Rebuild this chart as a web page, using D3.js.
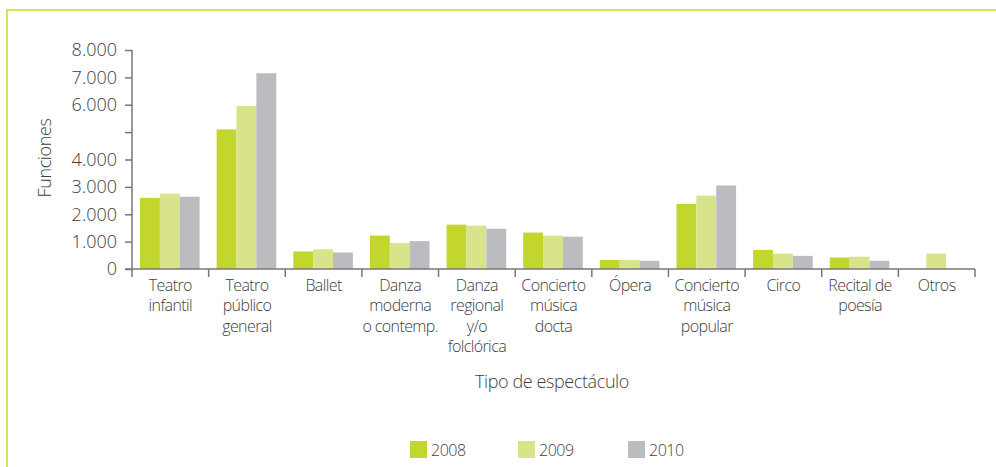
<!DOCTYPE html>
<html>
<head>
<meta charset="utf-8">
<script src="https://cdn.jsdelivr.net/npm/d3@7"></script>
<style>
  html, body { margin: 0; padding: 0; background: #fff; }
  svg text { font-family: "Open Sans", "Noto Sans", sans-serif; font-weight: 300; fill: #404040; }
</style>
</head>
<body>
<div id="chart"></div>
<script>
/* DATA */
var categories = [
  ["Teatro", "infantil"],
  ["Teatro", "público", "general"],
  ["Ballet"],
  ["Danza", "moderna", "o contemp."],
  ["Danza", "regional", "y/o", "folclórica"],
  ["Concierto", "música", "docta"],
  ["Ópera"],
  ["Concierto", "música", "popular"],
  ["Circo"],
  ["Recital de", "poesía"],
  ["Otros"]
];
var years = ["2008", "2009", "2010"];
var values2008 = [2600, 5100, 640, 1220, 1620, 1330, 330, 2380, 700, 420, 0];
var values2009 = [2750, 5950, 720, 950, 1580, 1220, 330, 2680, 560, 450, 560];
var values2010 = [2640, 7150, 600, 1020, 1470, 1180, 300, 3050, 480, 300, 0];
var yTicks = [0, 1000, 2000, 3000, 4000, 5000, 6000, 7000, 8000];
var yTickLabels = ["0", "1.000", "2.000", "3.000", "4.000", "", "6.000", "7.000", "8.000"];
var colors = ["#c3d62d", "#d9e48a", "#bbbcc0"];

/* layout */
var W = 996, H = 467;
var plotLeft = 132, plotRight = 975, plotTop = 50, plotBase = 269;

var svg = d3.select("#chart").append("svg")
  .attr("width", W)
  .attr("height", H);

/* frame (left + top lines) */
svg.append("path")
  .attr("d", "M7," + H + " V10 H" + W)
  .attr("fill", "none")
  .attr("stroke", "#d3e35a")
  .attr("stroke-width", 2);

var keys = categories.map(function(d, i) { return "c" + i; });

var x0 = d3.scaleBand().domain(keys).range([plotLeft, plotRight]);
var x1 = d3.scaleBand().domain(years).range([8, x0.bandwidth() - 9]);
var y = d3.scaleLinear().domain([0, 8000]).range([plotBase, plotTop]);

var series = [values2008, values2009, values2010];

/* bars */
var groups = svg.append("g").selectAll("g")
  .data(keys)
  .enter().append("g")
  .attr("transform", function(d) { return "translate(" + x0(d) + ",0)"; });

groups.selectAll("rect")
  .data(function(d, i) {
    return years.map(function(yr, j) { return {year: yr, value: series[j][i], k: j}; });
  })
  .enter().append("rect")
  .attr("x", function(d) { return x1(d.year); })
  .attr("width", x1.bandwidth())
  .attr("y", function(d) { return y(d.value); })
  .attr("height", function(d) { return plotBase - y(d.value); })
  .attr("fill", function(d) { return colors[d.k]; });

/* y axis */
var yAxis = svg.append("g")
  .attr("transform", "translate(" + plotLeft + ",0)")
  .call(d3.axisLeft(y)
    .tickValues(yTicks)
    .tickSize(7)
    .tickPadding(8)
    .tickFormat(function(d, i) { return yTickLabels[i]; }));
yAxis.select(".domain").attr("d", "M0," + plotTop + "V" + (plotBase + 8));
yAxis.selectAll("line, .domain").attr("stroke", "#777").attr("stroke-width", 1.5);
yAxis.selectAll("text").style("font-size", "18px").attr("fill", "#404040");

/* x axis line */
svg.append("line")
  .attr("x1", plotLeft - 7).attr("x2", plotRight)
  .attr("y1", plotBase).attr("y2", plotBase)
  .attr("stroke", "#777").attr("stroke-width", 1.5);

/* category boundary ticks */
svg.append("g").selectAll("line")
  .data(keys.slice(1).concat(["end"]))
  .enter().append("line")
  .attr("x1", function(d) { return d === "end" ? plotRight : x0(d); })
  .attr("x2", function(d) { return d === "end" ? plotRight : x0(d); })
  .attr("y1", plotBase).attr("y2", plotBase + 8)
  .attr("stroke", "#777").attr("stroke-width", 1.5);

/* category labels */
var labels = svg.append("g").selectAll("text")
  .data(keys)
  .enter().append("text")
  .attr("text-anchor", "middle")
  .attr("x", function(d) { return x0(d) + x0.bandwidth() / 2; })
  .attr("y", 291)
  .style("font-size", "16px")
  .style("letter-spacing", "-0.6px");

labels.selectAll("tspan")
  .data(function(d, i) { return categories[i]; })
  .enter().append("tspan")
  .attr("x", function() { return d3.select(this.parentNode).attr("x"); })
  .attr("dy", function(d, i) { return i === 0 ? 0 : 20.3; })
  .text(function(d) { return d; });

/* axis titles */
svg.append("text")
  .attr("x", 552).attr("y", 388)
  .attr("text-anchor", "middle")
  .style("font-size", "18px")
  .style("letter-spacing", "-0.4px")
  .text("Tipo de espectáculo");

svg.append("text")
  .attr("transform", "translate(51,158) rotate(-90)")
  .attr("text-anchor", "middle")
  .style("font-size", "18px")
  .style("letter-spacing", "-0.4px")
  .text("Funciones");

/* legend */
var legendX = [410, 518, 628];
var legend = svg.append("g").selectAll("g")
  .data(years)
  .enter().append("g")
  .attr("transform", function(d, i) { return "translate(" + legendX[i] + ",441)"; });
legend.append("rect")
  .attr("width", 17).attr("height", 17)
  .attr("fill", function(d, i) { return colors[i]; });
legend.append("text")
  .attr("x", 21).attr("y", 15)
  .style("font-size", "16px")
  .style("letter-spacing", "-0.5px")
  .text(function(d) { return d; });
</script>
</body>
</html>
